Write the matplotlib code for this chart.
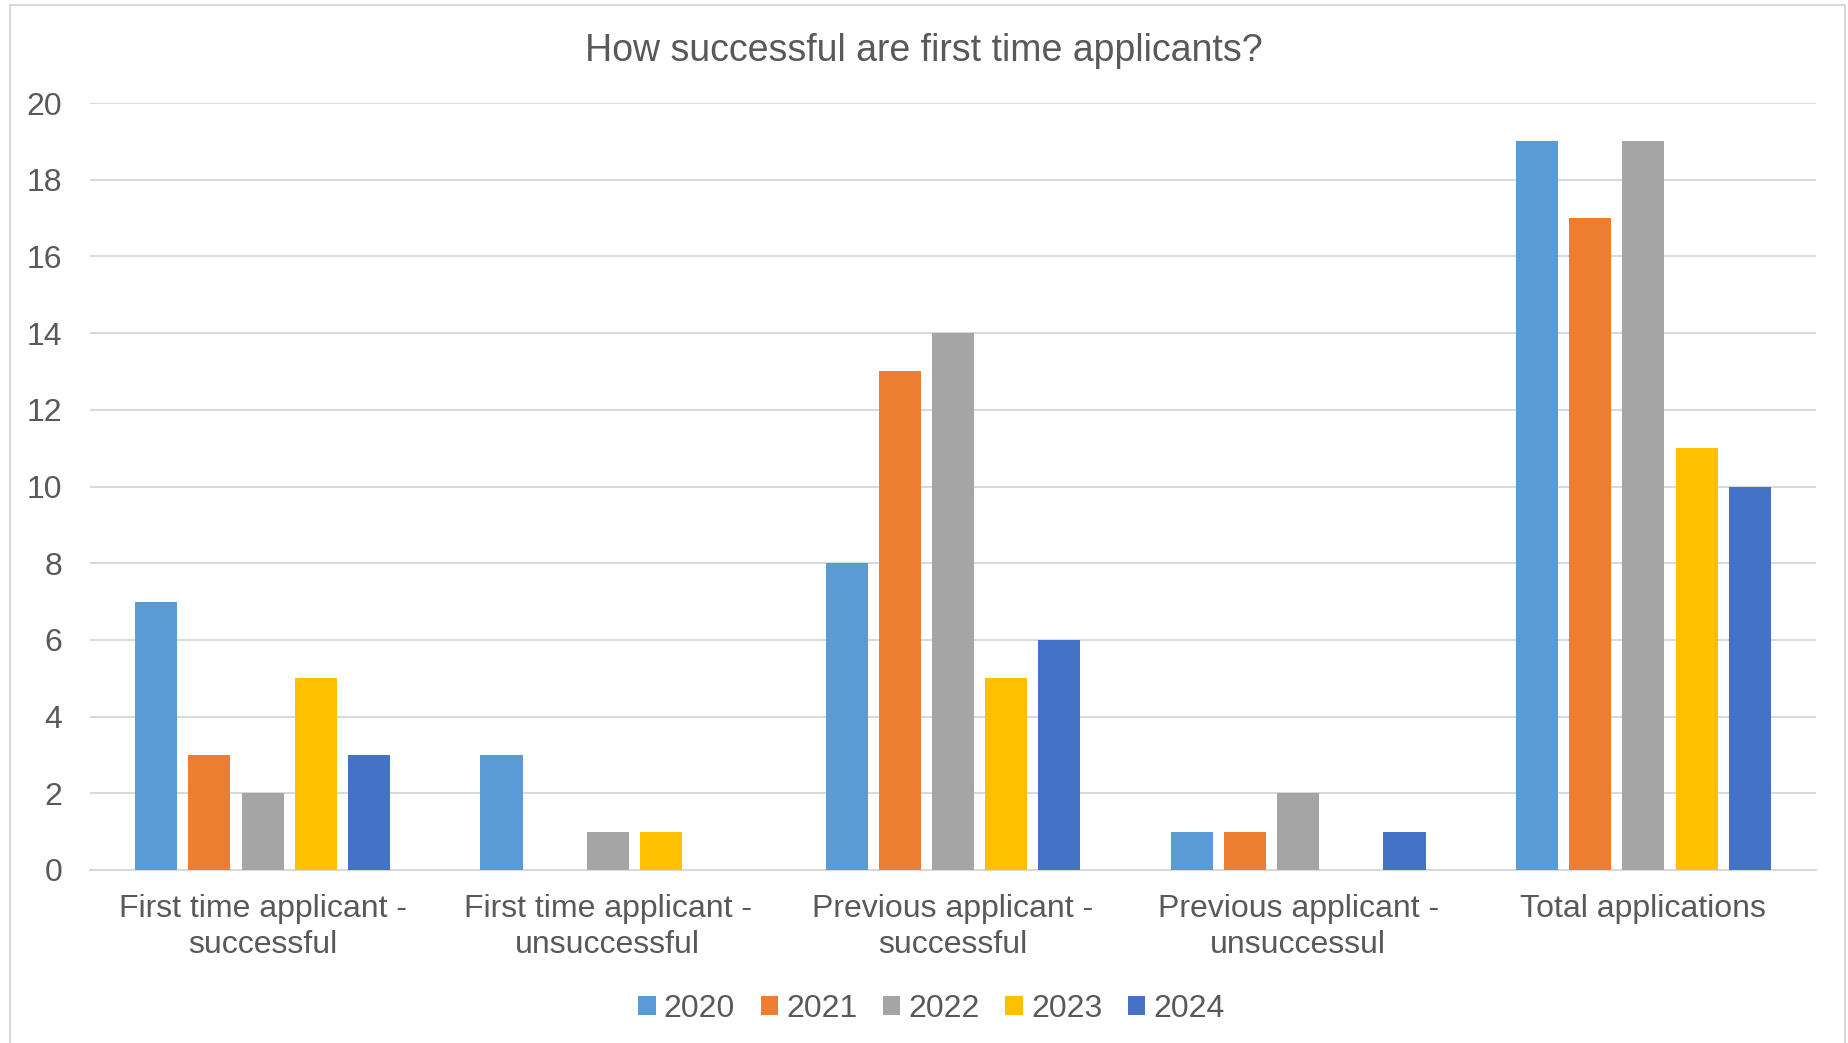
import numpy as np
import matplotlib.pyplot as plt
from matplotlib.patches import Rectangle

categories = ["First time applicant -\nsuccessful",
              "First time applicant -\nunsuccessful",
              "Previous applicant -\nsuccessful",
              "Previous applicant -\nunsuccessul",
              "Total applications"]
years = ["2020", "2021", "2022", "2023", "2024"]
v2020 = [7, 3, 8, 1, 19]
v2021 = [3, 0, 13, 1, 17]
v2022 = [2, 1, 14, 2, 19]
v2023 = [5, 1, 5, 0, 11]
v2024 = [3, 0, 6, 1, 10]
colors = ["#5B9BD5", "#ED7D31", "#A5A5A5", "#FFC000", "#4472C4"]

plt.rcParams['font.family'] = ['Liberation Sans', 'DejaVu Sans']
txt = "#595959"
grid = "#D9D9D9"

fig = plt.figure(figsize=(18.48, 10.43), dpi=100)
ax = fig.add_axes([0.0487, 0.1659, 0.934, 0.7353])

# outer chart border (no bottom edge visible)
fig.patches.append(Rectangle((10 / 1848, -0.05), 1835 / 1848, 1.05 - 5 / 1043,
                             transform=fig.transFigure, fill=False,
                             edgecolor=grid, linewidth=1.5))

x = np.arange(len(categories))
step = 0.154
width = 0.122
series = [v2020, v2021, v2022, v2023, v2024]
for i, (vals, yr) in enumerate(zip(series, years)):
    ax.bar(x + (i - 2) * step, vals, width, color=colors[i], label=yr, zorder=3)

ax.set_xlim(-0.5, len(categories) - 0.5)
ax.set_ylim(0, 20)
ax.set_yticks(range(0, 21, 2))
ax.set_xticks(x)
ax.set_xticklabels(categories, linespacing=1.3)
ax.tick_params(axis='y', length=0, pad=20, labelsize=23, labelcolor=txt)
ax.tick_params(axis='x', length=0, pad=17, labelsize=23, labelcolor=txt)
ax.grid(axis='y', color=grid, linewidth=1.5, zorder=0)
for s in ['top', 'right', 'left']:
    ax.spines[s].set_visible(False)
ax.spines['bottom'].set_color(grid)
ax.spines['bottom'].set_linewidth(1.5)

fig.text(0.5, 0.951, "How successful are first time applicants?", ha='center', va='center',
         fontsize=27, color=txt)

leg = fig.legend(loc='center', bbox_to_anchor=(0.504, 0.033), ncol=5, frameon=False,
                 fontsize=23, handlelength=0.55, handleheight=0.55, handletextpad=0.25,
                 columnspacing=0.8, labelcolor=txt)

fig.savefig("out.png", dpi=100)
